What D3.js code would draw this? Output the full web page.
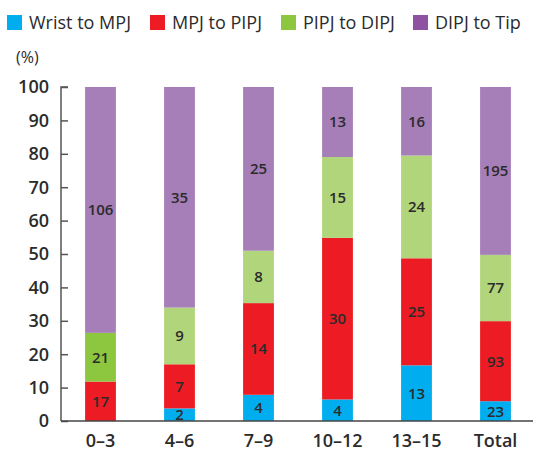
<!DOCTYPE html>
<html>
<head>
<meta charset="utf-8">
<script src="https://cdn.jsdelivr.net/npm/d3@7"></script>
<style>
  body { margin: 0; background: #fff; }
  text { font-family: "Open Sans", sans-serif; fill: #2b2b2b; }
</style>
</head>
<body>
<div id="chart"></div>
<script>
const categories = ['0\u20133', '4\u20136', '7\u20139', '10\u201312', '13\u201315', 'Total'];
const seriesNames = ['Wrist to MPJ', 'MPJ to PIPJ', 'PIPJ to DIPJ', 'DIPJ to Tip'];
const wristToMPJ = [0, 2, 4, 4, 13, 23];
const mpjToPIPJ = [17, 7, 14, 30, 25, 93];
const pipjToDIPJ = [21, 9, 8, 15, 24, 77];
const dipjToTip = [106, 35, 25, 13, 16, 195];
const yTicks = [0, 10, 20, 30, 40, 50, 60, 70, 80, 90, 100];

const barColors = ['#00aeef', '#ed1c24', '#b1d57a', '#a67eb8'];
const legendColors = ['#00aeef', '#ed1c24', '#8dc63f', '#8e52a1'];

const width = 547, height = 452;
const svg = d3.select('#chart').append('svg')
    .attr('width', width)
    .attr('height', height);

// rows for stacking
const rows = categories.map((c, i) => ({
    cat: c,
    'Wrist to MPJ': wristToMPJ[i],
    'MPJ to PIPJ': mpjToPIPJ[i],
    'PIPJ to DIPJ': pipjToDIPJ[i],
    'DIPJ to Tip': dipjToTip[i]
}));

const stack = d3.stack()
    .keys(seriesNames)
    .offset(d3.stackOffsetExpand);
const stacked = stack(rows);

const x = d3.scaleBand()
    .domain(categories)
    .range([61, 535])
    .paddingInner(0.61)
    .paddingOuter(0.305);

const y = d3.scaleLinear()
    .domain([0, 100])
    .range([421, 87]);

// bars
const layers = svg.append('g').selectAll('g')
    .data(stacked)
    .enter().append('g');

layers.each(function(layer, li) {
    const g = d3.select(this);
    g.selectAll('rect')
        .data(layer)
        .enter().append('rect')
        .attr('x', d => x(d.data.cat))
        .attr('width', x.bandwidth())
        .attr('y', d => y(d[1] * 100))
        .attr('height', d => y(d[0] * 100) - y(d[1] * 100))
        // first group's PIPJ segment is drawn in the darker green
        .attr('fill', d => (li === 2 && d.data.cat === categories[0]) ? legendColors[2] : barColors[li]);

    g.selectAll('text')
        .data(layer.filter(d => d.data[layer.key] > 0))
        .enter().append('text')
        .attr('x', d => x(d.data.cat) + x.bandwidth() / 2)
        .attr('y', d => y((d[0] + d[1]) / 2 * 100))
        .attr('dy', '0.36em')
        .attr('text-anchor', 'middle')
        .style('font-size', '15px')
        .style('font-weight', 600)
        .text(d => d.data[layer.key]);
});

// y axis
const yAxis = svg.append('g')
    .attr('transform', 'translate(61,0)')
    .call(d3.axisRight(y).tickValues(yTicks).tickSize(7).tickFormat(''));
yAxis.select('.domain').attr('stroke', '#555').attr('stroke-width', 1.5)
    .attr('d', `M7,${y(100)}H0V${y(0)}`);
yAxis.selectAll('.tick line').attr('stroke', '#555').attr('stroke-width', 1.5);

svg.append('g').selectAll('text')
    .data(yTicks)
    .enter().append('text')
    .attr('x', 49)
    .attr('y', d => y(d))
    .attr('dy', '0.36em')
    .attr('text-anchor', 'end')
    .style('font-size', '18px')
    .style('font-weight', 600)
    .text(d => d);

// x axis line
svg.append('line')
    .attr('x1', 61).attr('x2', 533)
    .attr('y1', y(0)).attr('y2', y(0))
    .attr('stroke', '#444').attr('stroke-width', 1.5);

svg.append('g').selectAll('text')
    .data(categories)
    .enter().append('text')
    .attr('x', d => x(d) + x.bandwidth() / 2)
    .attr('y', 447)
    .attr('text-anchor', 'middle')
    .style('font-size', '18px')
    .style('font-weight', 600)
    .text(d => d);

// unit label
svg.append('text')
    .attr('x', 16).attr('y', 63)
    .style('font-size', '16px')
    .text('(%)');

// legend
const legendX = [7, 150, 281, 413];
const legend = svg.append('g').selectAll('g')
    .data(seriesNames)
    .enter().append('g')
    .attr('transform', (d, i) => `translate(${legendX[i]},15)`);
legend.append('rect')
    .attr('width', 15).attr('height', 15)
    .attr('fill', (d, i) => legendColors[i]);
legend.append('text')
    .attr('x', 22).attr('y', 14)
    .style('font-size', '18px')
    .text(d => d);
</script>
</body>
</html>
